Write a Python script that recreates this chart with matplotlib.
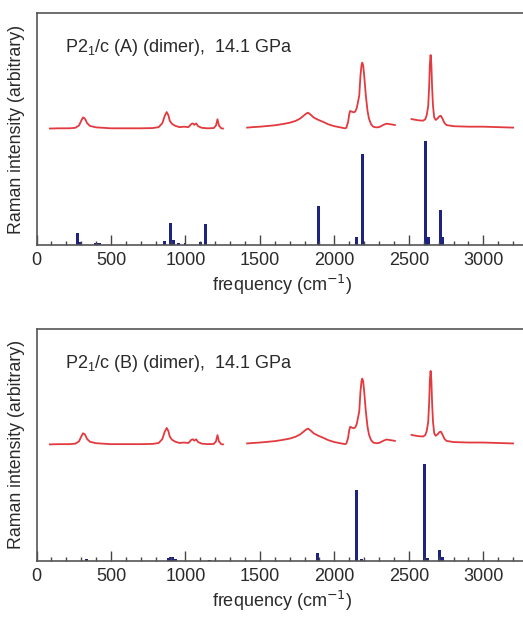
import matplotlib
matplotlib.use("Agg")
import matplotlib.pyplot as plt
from matplotlib.ticker import MultipleLocator

plt.rcParams['font.family'] = ['Liberation Sans', 'DejaVu Sans']

# Measured Raman spectrum (same spectrum shown in both panels), three segments
seg1_x = [90, 150, 220, 260, 285, 300, 312, 325, 340, 360, 400, 450, 500, 600, 700, 780,
          820, 845, 860, 874, 885, 895, 910, 930, 960, 990, 1020, 1040, 1050, 1060, 1072,
          1085, 1110, 1150, 1190, 1205, 1215, 1225, 1240, 1252]
seg1_y = [0.502, 0.503, 0.503, 0.505, 0.515, 0.535, 0.550, 0.545, 0.525, 0.513, 0.507,
          0.505, 0.503, 0.503, 0.503, 0.504, 0.508, 0.525, 0.555, 0.573, 0.560, 0.535,
          0.522, 0.514, 0.508, 0.510, 0.508, 0.522, 0.524, 0.518, 0.524, 0.512, 0.505,
          0.503, 0.504, 0.515, 0.542, 0.515, 0.503, 0.502]
seg2_x = [1414, 1450, 1500, 1550, 1600, 1650, 1700, 1740, 1770, 1795, 1812, 1824, 1840,
          1860, 1890, 1923, 1960, 2000, 2040, 2070, 2080, 2092, 2100, 2106, 2115, 2130,
          2140, 2150, 2158, 2167, 2175, 2182, 2187, 2193, 2200, 2211, 2222, 2232, 2245,
          2260, 2280, 2300, 2330, 2350, 2370, 2390, 2406]
seg2_y = [0.506, 0.508, 0.510, 0.513, 0.516, 0.521, 0.527, 0.535, 0.545, 0.558, 0.567,
          0.570, 0.562, 0.550, 0.540, 0.531, 0.520, 0.512, 0.507, 0.503, 0.505, 0.530,
          0.565, 0.578, 0.575, 0.572, 0.575, 0.590, 0.615, 0.645, 0.730, 0.775, 0.786,
          0.775, 0.730, 0.645, 0.580, 0.545, 0.522, 0.510, 0.507, 0.508, 0.518, 0.523,
          0.521, 0.519, 0.517]
seg3_x = [2518, 2540, 2570, 2596, 2610, 2620, 2630, 2636, 2641, 2646, 2651, 2656, 2662,
          2670, 2680, 2692, 2705, 2715, 2725, 2740, 2753, 2800, 2900, 3000, 3100, 3200]
seg3_y = [0.543, 0.540, 0.537, 0.536, 0.542, 0.560, 0.600, 0.680, 0.780, 0.819, 0.780,
          0.680, 0.600, 0.550, 0.539, 0.545, 0.555, 0.557, 0.545, 0.525, 0.517, 0.512,
          0.510, 0.510, 0.508, 0.506]

# Calculated Raman lines, structure A
a_freq = [276, 297, 395, 410, 426, 862, 898, 918, 956, 997, 1102, 1137,
          1891, 2149, 2187, 2612, 2634, 2710, 2728]
a_int = [0.053, 0.012, 0.008, 0.010, 0.007, 0.017, 0.093, 0.020, 0.010, 0.010, 0.015, 0.089,
         0.170, 0.036, 0.392, 0.450, 0.036, 0.151, 0.033]

# Calculated Raman lines, structure B
b_freq = [337, 883, 900, 915, 930, 1164, 1885, 2149, 2183, 2607, 2627, 2708, 2723]
b_int = [0.009, 0.012, 0.014, 0.016, 0.008, 0.004, 0.032, 0.305, 0.008, 0.417, 0.010, 0.046, 0.015]

titles = ["P2$_\\mathregular{1}$/c (A) (dimer),  14.1 GPa",
          "P2$_\\mathregular{1}$/c (B) (dimer),  14.1 GPa"]

fig = plt.figure(figsize=(5.23, 6.19), dpi=100)
axes = [fig.add_axes([0.0698, 0.6042, 0.9398, 0.3748]),
        fig.add_axes([0.0698, 0.0942, 0.9398, 0.3743])]

red = '#e23a3f'
navy = '#1f2380'
txt = '#2a2a2a'

for ax, title, bf, bi in zip(axes, titles, [a_freq, b_freq], [a_int, b_int]):
    for sx, sy in [(seg1_x, seg1_y), (seg2_x, seg2_y), (seg3_x, seg3_y)]:
        ax.plot(sx, sy, color=red, lw=1.3)
    ax.bar(bf, bi, width=20, color=navy, linewidth=0)
    ax.set_xlim(0, 3300)
    ax.set_ylim(0, 1)
    ax.xaxis.set_major_locator(MultipleLocator(500))
    ax.xaxis.set_minor_locator(MultipleLocator(100))
    ax.tick_params(axis='x', which='major', direction='in', length=7, width=1,
                   color='#444444', labelsize=13, labelcolor=txt, pad=5)
    ax.tick_params(axis='x', which='minor', direction='in', length=3, width=1,
                   color='#444444')
    ax.set_yticks([])
    for s in ax.spines.values():
        s.set_color('#555555')
        s.set_linewidth(1.2)
    ax.set_xlabel('frequency (cm$^{-1}$)', fontsize=13, color=txt, labelpad=3)
    ax.set_ylabel('Raman intensity (arbitrary)', fontsize=12.8, color=txt)
    ax.yaxis.set_label_coords(-0.024, 0.5)
    ax.text(0.058, 0.853, title, transform=ax.transAxes, fontsize=13, color=txt,
            va='center', ha='left')

fig.savefig('out.png', dpi=100)
